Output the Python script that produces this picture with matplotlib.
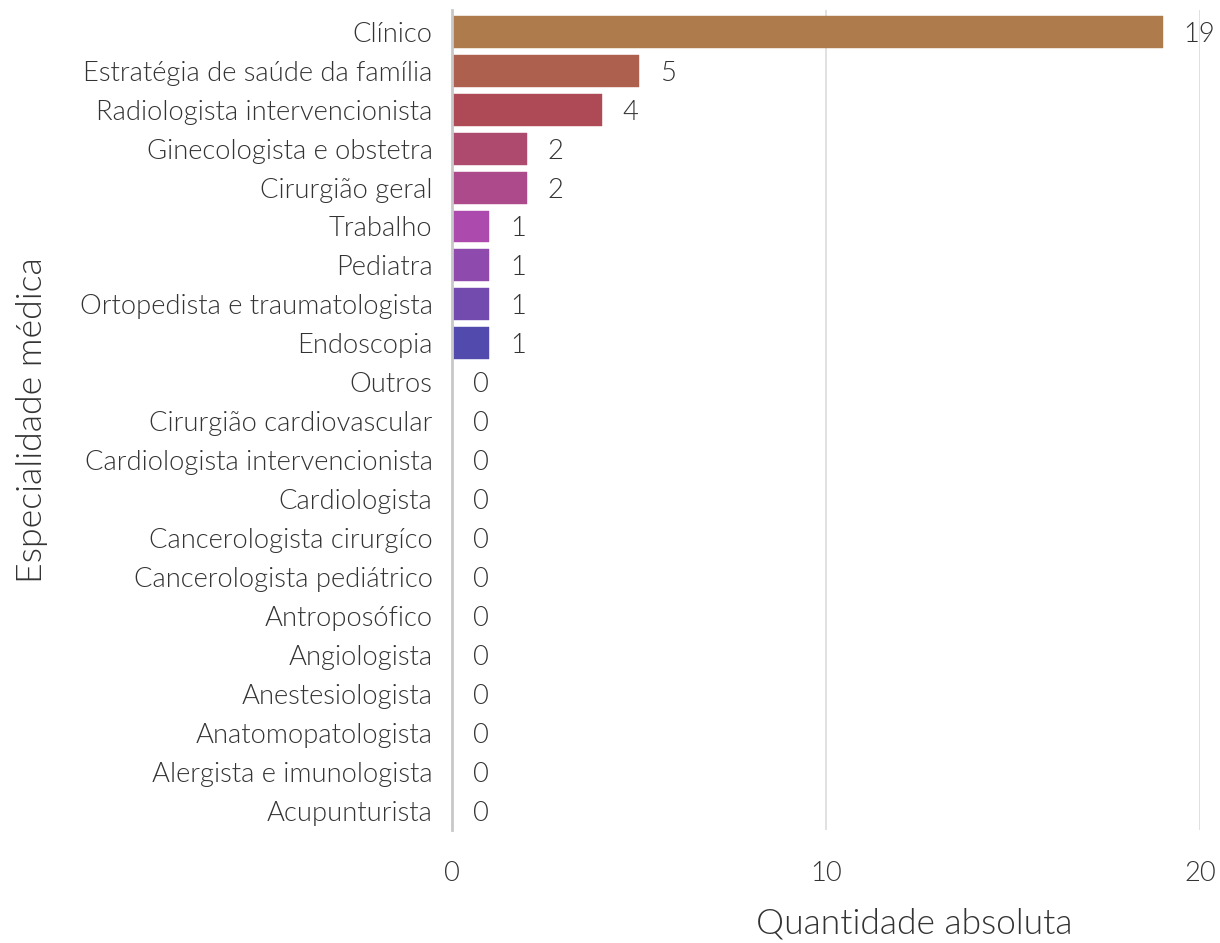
import matplotlib.pyplot as plt

plt.rcParams['font.family'] = ['Lato', 'DejaVu Sans']

especialidades = ['Clínico', 'Estratégia de saúde da família', 'Radiologista intervencionista',
                  'Ginecologista e obstetra', 'Cirurgião geral', 'Trabalho', 'Pediatra',
                  'Ortopedista e traumatologista', 'Endoscopia', 'Outros',
                  'Cirurgião cardiovascular', 'Cardiologista intervencionista', 'Cardiologista',
                  'Cancerologista cirurgíco', 'Cancerologista pediátrico', 'Antroposófico',
                  'Angiologista', 'Anestesiologista', 'Anatomopatologista',
                  'Alergista e imunologista', 'Acupunturista']
quantidade = [19, 5, 4, 2, 2, 1, 1, 1, 1, 0, 0, 0, 0, 0, 0, 0, 0, 0, 0, 0, 0]
cores = ['#ae7c4c', '#ae604f', '#ae4a55', '#ad4a6e', '#ad4a8b', '#ad4aad', '#8f4aad',
         '#734aad', '#534aad', '#4a5aad', '#4a76ad', '#4a93ad', '#4aadad', '#4aad91',
         '#4aad74', '#4aad57', '#5fad4a', '#7cad4a', '#99ad4a', '#ad9f4a', '#ad834a']

PESO = 300
COR_TEXTO = '#333333'

fig = plt.figure(figsize=(12.2, 9.43), dpi=100)
ax = fig.add_axes([0.3705, 0.1198, 0.6131, 0.8696])

pos = list(range(len(especialidades)))
ax.barh(pos, quantidade, height=0.82, color=cores, edgecolor=cores, linewidth=0.3, zorder=3)

# rótulo com o valor ao lado de cada barra
for y, v in zip(pos, quantidade):
    ax.annotate(str(v), (v, y), xytext=(15, 0), textcoords='offset points',
                ha='left', va='center_baseline', fontsize=19.7, fontweight=PESO, color=COR_TEXTO)

ax.set_xlim(0, 20)
ax.set_ylim(20.5, -0.56)
ax.set_yticks(pos)
ax.set_yticklabels(especialidades, fontsize=19.7, fontweight=PESO, color=COR_TEXTO)
ax.set_xticks([0, 10, 20])
ax.set_xticklabels(['0', '10', '20'], fontsize=19.7, fontweight=PESO, color=COR_TEXTO)
ax.tick_params(axis='both', length=0)
ax.tick_params(axis='x', pad=22)
ax.tick_params(axis='y', pad=14)

ax.grid(axis='x', color='#dcdcdc', linewidth=1.2, zorder=0)
for s in ['top', 'right', 'bottom']:
    ax.spines[s].set_visible(False)
ax.spines['left'].set_color('#c8c8c8')
ax.spines['left'].set_linewidth(2)
ax.spines['left'].set_zorder(3.5)

ax.set_xlabel('Quantidade absoluta', fontsize=25.5, fontweight=PESO, color=COR_TEXTO)
ax.set_ylabel('Especialidade médica', fontsize=25.7, fontweight=PESO, color=COR_TEXTO)
ax.xaxis.set_label_coords(0.618, -0.094)
ax.yaxis.set_label_coords(-0.54, 0.5)

fig.savefig('out.png', dpi=100)
